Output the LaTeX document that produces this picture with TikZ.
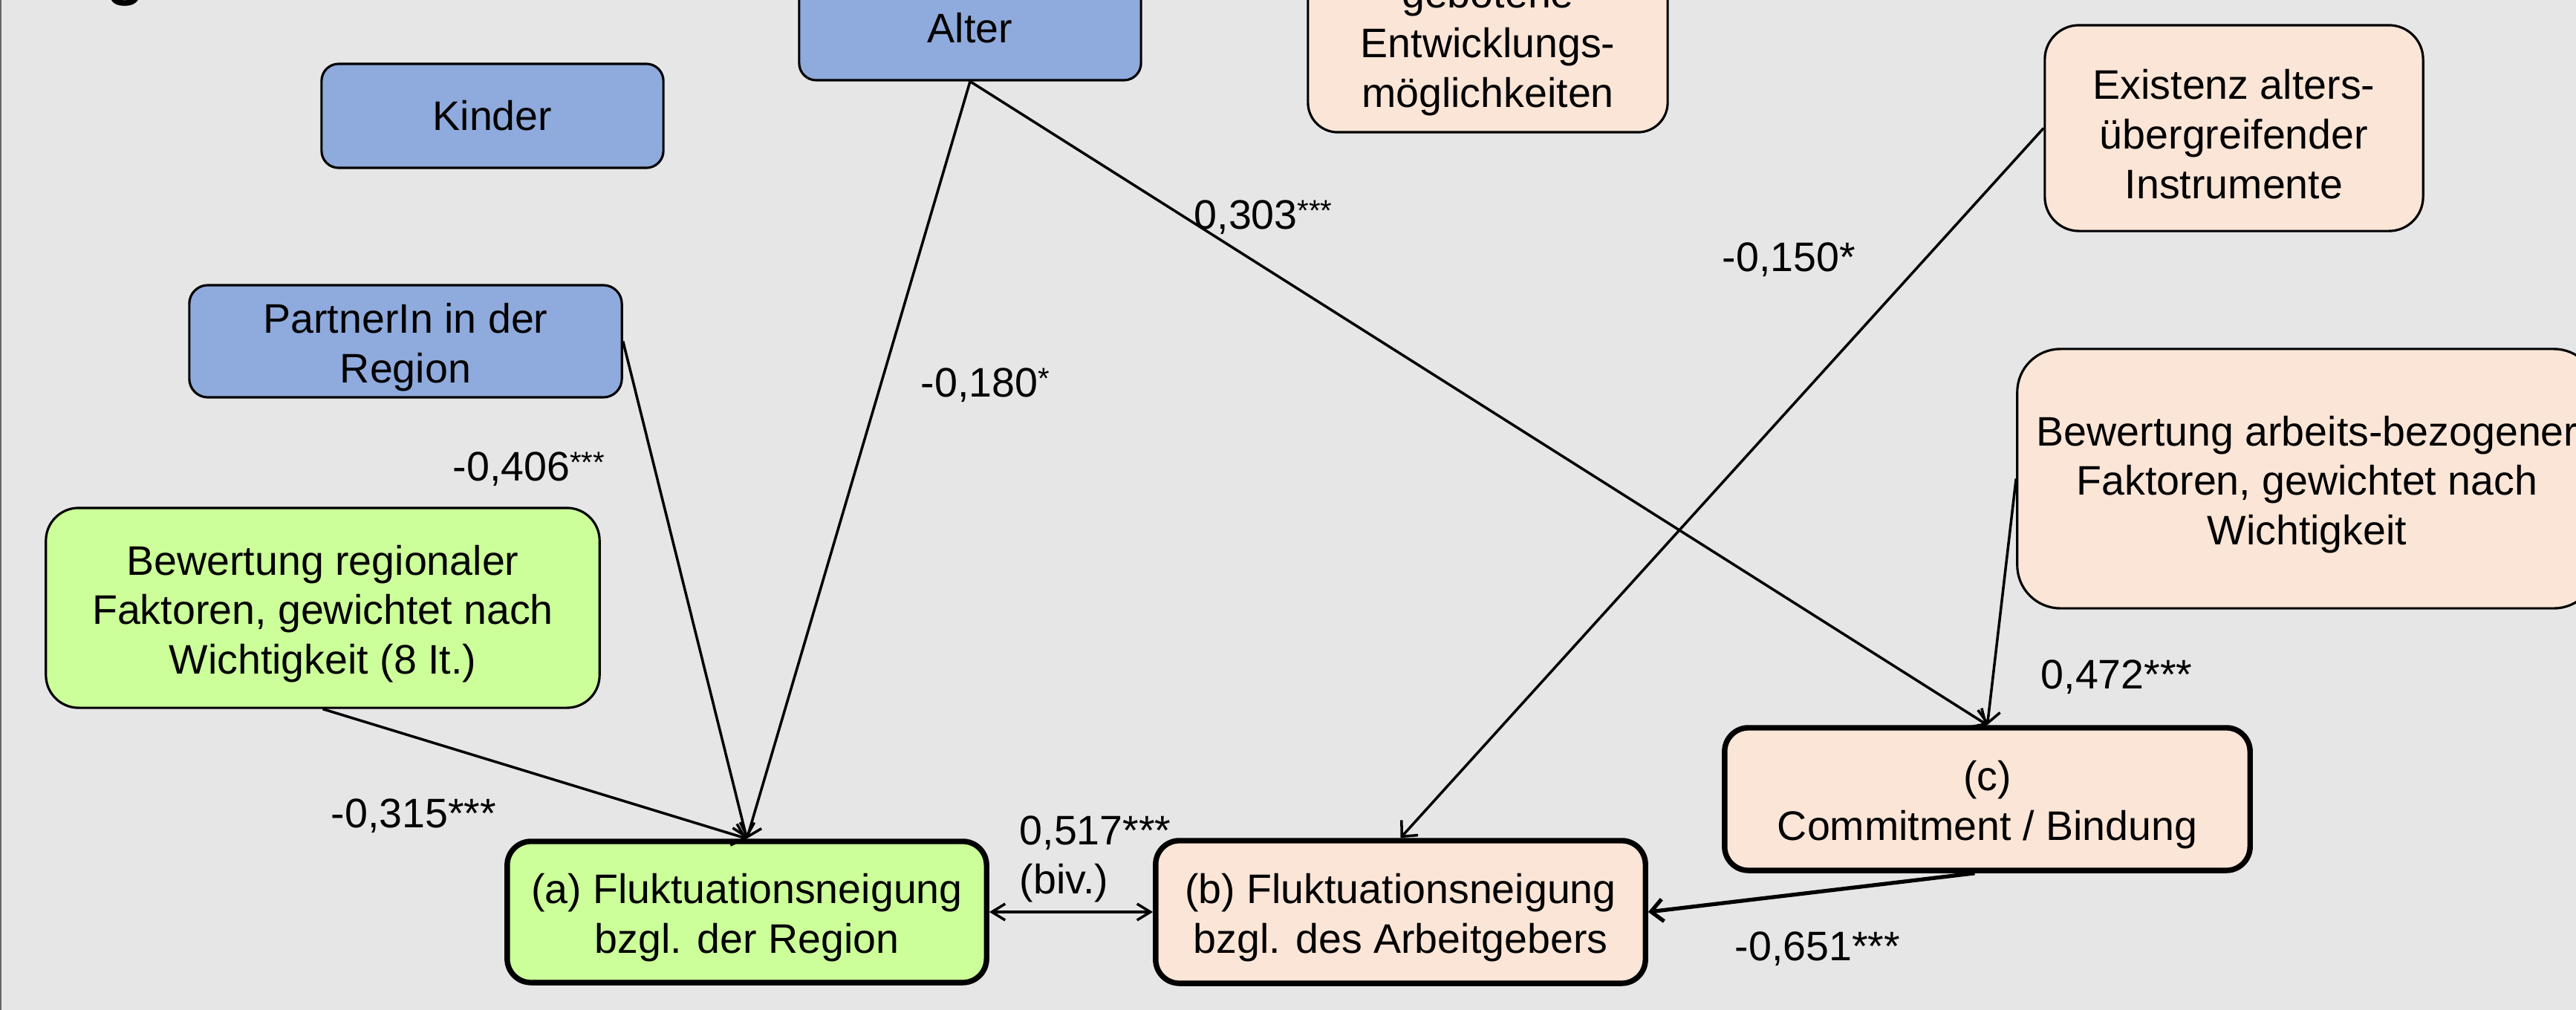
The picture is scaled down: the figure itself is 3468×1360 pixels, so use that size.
\documentclass[tikz,border=0pt]{standalone}
\usepackage{fontspec}
\setmainfont{Liberation Sans}
\usetikzlibrary{arrows.meta}
\definecolor{bg}{HTML}{E6E6E6}
\definecolor{bluebox}{HTML}{8FAADC}
\definecolor{greenbox}{HTML}{CCFF99}
\definecolor{peachbox}{HTML}{FBE5D6}
\newcommand{\sst}[1]{\raisebox{3pt}{\fontsize{11.4}{12}\selectfont #1}}
\newcommand{\tp}{\rule{0pt}{16pt}}
\begin{document}
\begin{tikzpicture}[x=0.01cm,y=-0.01cm,
  box/.style={draw=black, line width=0.9pt, align=center, inner sep=0pt, font=\fontsize{15.8}{19}\selectfont},
  mainbox/.style={box, line width=2.1pt},
  lbl/.style={anchor=base west, inner sep=0pt, font=\fontsize{15.8}{19}\selectfont},
  arr/.style={line width=1pt, -{Straight Barb[length=1.6mm,width=3mm]}},
 ]
\fill[bg] (0,0) rectangle (3468,1360);
\useasboundingbox (0,0) rectangle (3468,1360);
\draw[line width=0.02cm, black!60] (1,0) -- (1,1360);
\node[anchor=base west, inner sep=0pt, font=\fontsize{24}{24}\selectfont\bfseries] (gfrag) at (143,-10) {g};

\node[box, fill=bluebox, minimum width=4.6cm, minimum height=1.4cm, rounded corners=0.23cm] (kinder) at (663,156) {Kinder};
\node[box, fill=bluebox, minimum width=4.6cm, minimum height=1.4cm, rounded corners=0.23cm] (alter) at (1306,38) {Alter};
\node[box, fill=peachbox, minimum width=4.84cm, minimum height=2.46cm, rounded corners=0.4cm] (entw) at (2003,55) {\tp gebotene\\Entwicklungs-\\möglichkeiten};
\node[box, fill=peachbox, minimum width=5.09cm, minimum height=2.77cm, rounded corners=0.46cm] (exist) at (3007.5,172.5) {\tp Existenz alters-\\übergreifender\\Instrumente};
\node[box, fill=bluebox, minimum width=5.82cm, minimum height=1.51cm, rounded corners=0.25cm] (partner) at (546,459.5) {\tp PartnerIn in der\\Region};
\node[box, fill=greenbox, minimum width=7.45cm, minimum height=2.69cm, rounded corners=0.44cm] (bewreg) at (434.5,818.5) {\tp Bewertung regionaler\\Faktoren, gewichtet nach\\Wichtigkeit (8 It.)};
\node[box, fill=peachbox, minimum width=7.8cm, minimum height=3.49cm, rounded corners=0.58cm] (bewarb) at (3106,644.5) {\tp Bewertung arbeits-bezogener\\Faktoren, gewichtet nach\\Wichtigkeit};
\node[mainbox, fill=peachbox, minimum width=7.07cm, minimum height=1.92cm, rounded corners=0.32cm] (c) at (2675.5,1076) {\tp(c)\\Commitment / Bindung};
\node[mainbox, fill=peachbox, minimum width=6.59cm, minimum height=1.92cm, rounded corners=0.32cm] (b) at (1885.5,1228) {\tp(b) Fluktuationsneigung\\bzgl. des Arbeitgebers};
\node[mainbox, fill=greenbox, minimum width=6.45cm, minimum height=1.90cm, rounded corners=0.32cm] (a) at (1005.5,1228) {\tp(a) Fluktuationsneigung\\bzgl. der Region};

\draw[arr] (alter.south) -- (a.north);
\draw[arr] (partner.east) -- (a.north);
\draw[arr] (bewreg.south) -- (a.north);
\draw[arr] (alter.south) -- (c.north);
\draw[arr] (bewarb.west) -- (c.north);
\draw[arr] (exist.west) -- (b.north);
\draw[arr, line width=1.5pt] ([xshift=-0.17cm]c.south) -- (b.east);
\draw[line width=1pt, {Straight Barb[length=1.8mm,width=2.2mm]}-{Straight Barb[length=1.8mm,width=2.2mm]}] (a.east) -- (b.west);

\node[lbl] (l303) at (1607,308) {0,303\sst{***}};
\node[lbl] (l180) at (1239,534) {-0,180\sst{*}};
\node[lbl] (l150) at (2318,365) {-0,150*};
\node[lbl] (l406) at (609,647) {-0,406\sst{***}};
\node[lbl] (l472) at (2747,927) {0,472***};
\node[lbl] (l315) at (445,1114) {-0,315***};
\node[lbl] (l517) at (1372,1137) {0,517***};
\node[lbl] (lbiv) at (1372,1203) {(biv.)};
\node[lbl] (l651) at (2335,1293) {-0,651***};
\end{tikzpicture}
\end{document}
